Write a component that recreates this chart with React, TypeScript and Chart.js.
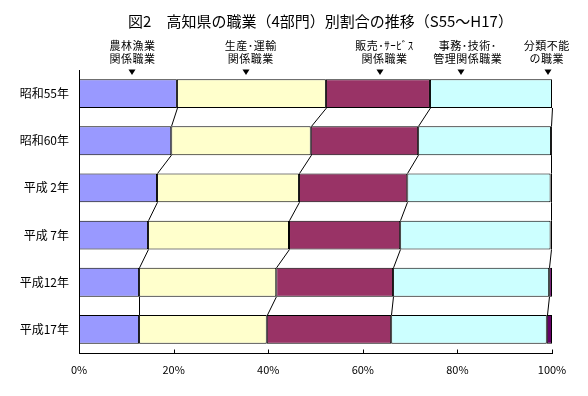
import React, { useEffect, useRef } from "react";
import { Chart, registerables } from "chart.js";

Chart.register(...registerables);

const years = ["昭和55年", "昭和60年", "平成 2年", "平成 7年", "平成12年", "平成17年"];
const seriesNames = ["農林漁業関係職業", "生産・運輸関係職業", "販売・サービス関係職業", "事務・技術・管理関係職業", "分類不能の職業"];
const agri = [20.7, 19.5, 16.5, 14.6, 12.7, 12.7];
const production = [31.5, 29.5, 30.0, 29.8, 29.0, 27.0];
const sales = [22.0, 22.7, 22.9, 23.5, 24.7, 26.3];
const office = [25.8, 28.1, 30.3, 31.8, 33.0, 32.9];
const unclassified = [0.0, 0.2, 0.3, 0.3, 0.6, 1.1];
const xTickValues = [0, 20, 40, 60, 80, 100];
const titleText = "図2　高知県の職業（4部門）別割合の推移（S55～H17）";
const calloutLines = [
  ["農林漁業", "関係職業"],
  ["生産･運輸", "関係職業"],
  ["販売･ｻｰﾋﾞｽ", "関係職業"],
  ["事務･技術･", "管理関係職業"],
  ["分類不能", "の職業"],
];
const calloutTextAt = [11.3, 36.3, 64.6, 82.2, 98.9];
const calloutArrowAt = [11.3, 35.4, 63.6, 80.7, 99.1];

const colors = ["#9999FF", "#FFFFCC", "#993366", "#CCFFFF", "#660066"];
const FONT = '"Noto Sans CJK JP", "Noto Sans", sans-serif';

export default function App() {
  const ref = useRef<HTMLCanvasElement | null>(null);
  useEffect(() => {
    document.body.style.margin = "0";
    const canvas = ref.current;
    if (!canvas) return;
    const values = [agri, production, sales, office, unclassified];

    const overlay = {
      id: "overlay",
      afterDatasetsDraw(chart: any) {
        const ctx = chart.ctx;
        const xs = chart.scales.x;
        const area = chart.chartArea;
        ctx.save();
        ctx.strokeStyle = "#000";
        ctx.lineWidth = 1;
        for (let i = 0; i < years.length - 1; i++) {
          let cumA = 0;
          let cumB = 0;
          for (let s = 0; s < values.length - 1; s++) {
            cumA += values[s][i];
            cumB += values[s][i + 1];
            const elA = chart.getDatasetMeta(s).data[i];
            const elB = chart.getDatasetMeta(s).data[i + 1];
            const x1 = Math.round(xs.getPixelForValue(cumA)) + 0.5;
            const x2 = Math.round(xs.getPixelForValue(cumB)) + 0.5;
            const y1 = elA.y + elA.height / 2;
            const y2 = elB.y - elB.height / 2;
            ctx.beginPath();
            ctx.moveTo(x1, y1);
            ctx.lineTo(x2, y2);
            ctx.stroke();
          }
        }
        const yb = Math.round(area.bottom) + 0.5;
        for (const v of xTickValues) {
          const px = Math.round(xs.getPixelForValue(v)) + 0.5;
          ctx.beginPath();
          ctx.moveTo(px, yb);
          ctx.lineTo(px, yb - 4);
          ctx.stroke();
        }
        ctx.restore();
      },
      afterDraw(chart: any) {
        const ctx = chart.ctx;
        const xs = chart.scales.x;
        const area = chart.chartArea;
        ctx.save();
        ctx.fillStyle = "#000";
        ctx.textAlign = "center";
        ctx.textBaseline = "middle";
        ctx.font = `15px ${FONT}`;
        ctx.fillText(titleText, (area.left + area.right) / 2 + 5, 21);
        ctx.font = `11px ${FONT}`;
        try {
          (ctx as any).letterSpacing = "0.5px";
        } catch (e) {}
        calloutLines.forEach((lines, k) => {
          const tx = xs.getPixelForValue(calloutTextAt[k]);
          ctx.fillText(lines[0], tx, area.top - 24);
          ctx.fillText(lines[1], tx, area.top - 11);
          const ax = Math.round(xs.getPixelForValue(calloutArrowAt[k]));
          ctx.beginPath();
          ctx.moveTo(ax - 3.5, area.top - 0.5);
          ctx.lineTo(ax + 3.5, area.top - 0.5);
          ctx.lineTo(ax, area.top + 5);
          ctx.closePath();
          ctx.fill();
        });
        ctx.restore();
      },
    };

    const chart = new Chart(canvas, {
      type: "bar",
      data: {
        labels: years,
        datasets: values.map((d, i) => ({
          label: seriesNames[i],
          data: d,
          backgroundColor: colors[i],
          borderColor: "#000",
          borderWidth: 1,
          borderSkipped: false,
          barPercentage: 0.61,
          categoryPercentage: 1,
        })),
      },
      options: {
        indexAxis: "y",
        responsive: false,
        animation: false,
        devicePixelRatio: 1,
        layout: { padding: { top: 70, right: 36, bottom: 0, left: 0 } },
        plugins: {
          legend: { display: false },
          tooltip: { enabled: false },
          title: { display: false },
        },
        scales: {
          x: {
            stacked: true,
            min: 0,
            max: 100,
            afterBuildTicks: (scale: any) => {
              scale.ticks = xTickValues.map((v) => ({ value: v }));
            },
            ticks: {
              callback: (v: any) => v + "%",
              font: { family: FONT, size: 11 },
              color: "#000",
              padding: 10,
              maxRotation: 0,
            },
            grid: { display: false, drawTicks: false },
            border: { display: true, color: "#000", width: 1 },
            afterFit: (scale: any) => {
              scale.height = 43;
            },
          },
          y: {
            stacked: true,
            ticks: {
              font: { family: FONT, size: 12 },
              color: "#000",
              padding: 10,
            },
            grid: { display: false, drawTicks: false },
            border: { display: true, color: "#000", width: 1 },
            afterFit: (scale: any) => {
              scale.width = 79;
            },
          },
        },
      },
      plugins: [overlay],
    } as any);
    return () => chart.destroy();
  }, []);
  return (
    <canvas
      ref={ref}
      width={588}
      height={396}
      style={{ display: "block", width: 588, height: 396 }}
    />
  );
}
